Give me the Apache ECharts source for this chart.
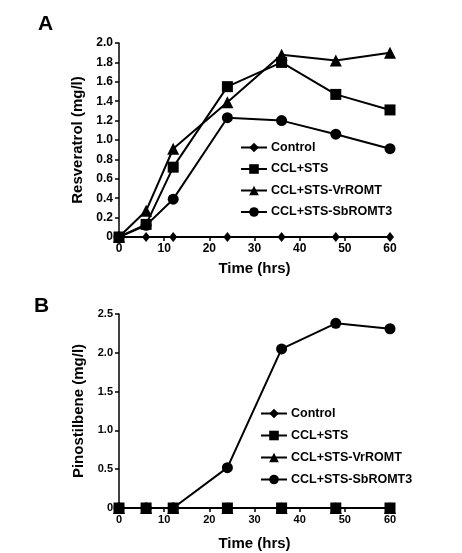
<!DOCTYPE html>
<html><head><meta charset="utf-8">
<script src="https://cdn.jsdelivr.net/npm/echarts@6/dist/echarts.min.js"></script>
<style>html,body{margin:0;padding:0;background:#fff}#c{width:462px;height:553px}</style>
</head><body><div id="c"></div>
<script>
const times = [0, 6, 12, 24, 36, 48, 60];
const seriesNames = ['Control', 'CCL+STS', 'CCL+STS-VrROMT', 'CCL+STS-SbROMT3'];
// Panel A: Resveratrol (mg/l)
const resControl = [0, 0, 0, 0, 0, 0, 0];
const resCclSts = [0, 0.13, 0.72, 1.55, 1.80, 1.47, 1.31];
const resVrROMT = [0, 0.27, 0.91, 1.39, 1.88, 1.82, 1.90];
const resSbROMT3 = [0, 0.12, 0.39, 1.23, 1.20, 1.06, 0.91];
// Panel B: Pinostilbene (mg/l)
const pinControl = [0, 0, 0, 0, 0, 0, 0];
const pinCclSts = [0, 0, 0, 0, 0, 0, 0];
const pinVrROMT = [0, 0, 0, 0, 0, 0, 0];
const pinSbROMT3 = [0, 0, 0, 0.52, 2.05, 2.38, 2.31];

const FONT = '"Liberation Sans", Arial, sans-serif';
const symbols = {
  'Control': {symbol: 'diamond', size: [8, 10], z: 2},
  'CCL+STS': {symbol: 'rect', size: 11, z: 5},
  'CCL+STS-VrROMT': {symbol: 'triangle', size: 12, z: 4},
  'CCL+STS-SbROMT3': {symbol: 'circle', size: 11, z: 3}
};
function mk(name, vals, idx) {
  const s = symbols[name];
  return {
    name, type: 'line', xAxisIndex: idx, yAxisIndex: idx,
    data: times.map((t, i) => [t, vals[i]]),
    symbol: s.symbol, symbolSize: s.size, z: s.z,
    lineStyle: {color: '#000', width: 2},
    itemStyle: {color: '#000'},
    emphasis: {disabled: true}, animation: false
  };
}
const tickFmt = v => v === 0 ? '0' : v.toFixed(1);
function xAx(idx) {
  return {
    type: 'value', gridIndex: idx, min: 0, max: 60, interval: 10,
    name: 'Time (hrs)', nameLocation: 'middle', nameGap: idx ? 28 : 24,
    nameTextStyle: {fontFamily: FONT, fontWeight: 'bold', fontSize: 15, color: '#000'},
    axisLine: {show: true, onZero: false, lineStyle: {color: '#000', width: 1.5}},
    axisTick: {show: true, length: 4, lineStyle: {color: '#000', width: 1.5}},
    axisLabel: {fontFamily: FONT, fontWeight: 'bold', fontSize: idx ? 11 : 12, color: '#000', margin: 6},
    splitLine: {show: false}
  };
}
function yAx(idx, max, interval, name) {
  return {
    type: 'value', gridIndex: idx, min: 0, max, interval,
    name, nameLocation: 'middle', nameGap: idx ? 31 : 28,
    nameTextStyle: {fontFamily: FONT, fontWeight: 'bold', fontSize: 15, color: '#000'},
    axisLine: {show: true, lineStyle: {color: '#000', width: 1.5}},
    axisTick: {show: true, length: 4, lineStyle: {color: '#000', width: 1.5}},
    axisLabel: {fontFamily: FONT, fontWeight: 'bold', fontSize: idx ? 11 : 12, color: '#000', margin: 6, formatter: tickFmt},
    splitLine: {show: false}
  };
}
function leg(left, top, gap) {
  return {
    orient: 'vertical', left, top, itemWidth: 26, itemHeight: 12, itemGap: gap,
    data: seriesNames, selectedMode: false,
    textStyle: {fontFamily: FONT, fontWeight: 'bold', fontSize: 12.5, color: '#000', padding: [0, 0, 0, -1]}
  };
}
const chart = echarts.init(document.getElementById('c'), null, {renderer: 'canvas'});
chart.setOption({
  animation: false,
  title: [
    {text: 'A', left: 33, top: 9, textStyle: {fontFamily: FONT, fontWeight: 'bold', fontSize: 21, color: '#000'}},
    {text: 'B', left: 29, top: 291, textStyle: {fontFamily: FONT, fontWeight: 'bold', fontSize: 21, color: '#000'}}
  ],
  grid: [
    {left: 119, width: 271, top: 43, height: 194},
    {left: 119, width: 271, top: 314, height: 194}
  ],
  xAxis: [xAx(0), xAx(1)],
  yAxis: [yAx(0, 2.0, 0.2, 'Resveratrol (mg/l)'), yAx(1, 2.5, 0.5, 'Pinostilbene (mg/l)')],
  legend: [leg(235, 136, 8.5), leg(255, 402, 9)],
  series: [
    mk('Control', resControl, 0), mk('CCL+STS', resCclSts, 0), mk('CCL+STS-VrROMT', resVrROMT, 0), mk('CCL+STS-SbROMT3', resSbROMT3, 0),
    mk('Control', pinControl, 1), mk('CCL+STS', pinCclSts, 1), mk('CCL+STS-VrROMT', pinVrROMT, 1), mk('CCL+STS-SbROMT3', pinSbROMT3, 1)
  ]
});
</script></body></html>
